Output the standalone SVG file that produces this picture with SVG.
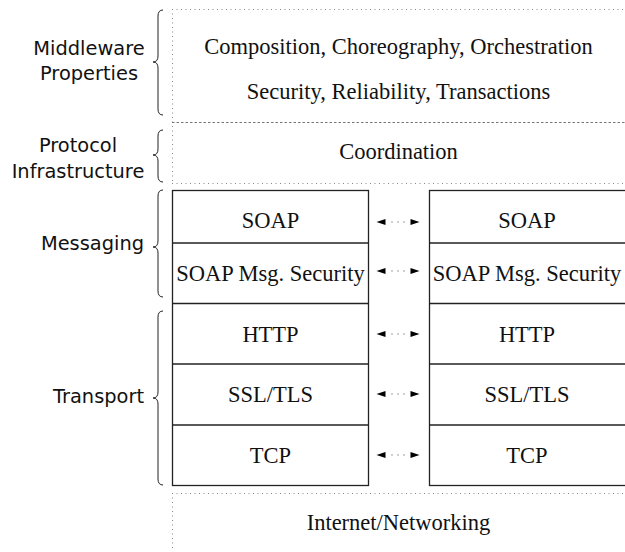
<svg xmlns="http://www.w3.org/2000/svg" width="625" height="552" viewBox="0 0 625 552">
<style>
.serif{font-family:"Liberation Serif","Times New Roman",serif;font-size:22.5px;fill:#111;text-anchor:middle}
.sans{font-family:"DejaVu Sans",sans-serif;font-size:19.4px;fill:#111;text-anchor:middle}
.dot{stroke:#888;stroke-width:1;stroke-dasharray:1 3.5;fill:none}
.dash{stroke:#777;stroke-width:1;stroke-dasharray:2.5 2;fill:none}
.box{stroke:#222;stroke-width:1.3;fill:#fff}
.brace{stroke:#222;stroke-width:1;fill:none}
.conn{stroke:#444;stroke-width:1.2;stroke-dasharray:1 5;fill:none;marker-start:url(#ah);marker-end:url(#ah)}
</style>
<defs>
<marker id="ah" markerUnits="userSpaceOnUse" markerWidth="10" markerHeight="8" refX="-6" refY="3" orient="auto-start-reverse" overflow="visible">
<path d="M0,0 L9,3 L0,6 z" fill="#000"/>
</marker>
</defs>
<rect width="625" height="552" fill="#fff"/>

<g id="frame">
<line class="dot" x1="172" y1="9.5" x2="625" y2="9.5"/>
<line class="dot" x1="172.5" y1="9" x2="172.5" y2="184"/>
<line class="dash" x1="172" y1="122.5" x2="625" y2="122.5"/>
<line class="dot" x1="172" y1="183.5" x2="625" y2="183.5"/>
<line class="dot" x1="172" y1="493.5" x2="625" y2="493.5"/>
<line class="dot" x1="172.5" y1="493" x2="172.5" y2="550"/>
</g>

<g id="middleware-properties">
<path class="brace" d="M163,10 Q158,10 158,16 L158,56 Q158,62 153,62 Q158,62 158,68 L158,109 Q158,115 163,115"/>
<text class="sans" x="89" y="55">Middleware</text>
<text class="sans" x="89" y="80">Properties</text>
<text class="serif" x="398.5" y="54">Composition, Choreography, Orchestration</text>
<text class="serif" x="398.5" y="99">Security, Reliability, Transactions</text>
</g>

<g id="protocol-infrastructure">
<path class="brace" d="M163,130 Q158,130 158,136 L158,149 Q158,155 153,155 Q158,155 158,161 L158,176 Q158,182 163,182"/>
<text class="sans" x="78" y="152">Protocol</text>
<text class="sans" x="78" y="178">Infrastructure</text>
<text class="serif" x="398.5" y="159">Coordination</text>
</g>

<g id="messaging">
<path class="brace" d="M163,190 Q158,190 158,196 L158,241 Q158,247 153,247 Q158,247 158,253 L158,291 Q158,297 163,297"/>
<text class="sans" x="144" y="250" style="text-anchor:end">Messaging</text>
</g>

<g id="transport">
<path class="brace" d="M163,311 Q158,311 158,317 L158,392 Q158,398 153,398 Q158,398 158,404 L158,479 Q158,485 163,485"/>
<text class="sans" x="144" y="403" style="text-anchor:end">Transport</text>
</g>

<g id="left-stack">
<rect class="box" x="172.5" y="190.5" width="196" height="295"/>
<line class="box" x1="172.5" y1="243" x2="368.5" y2="243"/>
<line class="box" x1="172.5" y1="303.5" x2="368.5" y2="303.5"/>
<line class="box" x1="172.5" y1="364" x2="368.5" y2="364"/>
<line class="box" x1="172.5" y1="425" x2="368.5" y2="425"/>
<text class="serif" x="270.5" y="228">SOAP</text>
<text class="serif" x="270.5" y="281">SOAP Msg. Security</text>
<text class="serif" x="270.5" y="342">HTTP</text>
<text class="serif" x="270.5" y="402">SSL/TLS</text>
<text class="serif" x="270.5" y="463">TCP</text>
</g>

<g id="right-stack">
<rect class="box" x="429.5" y="190.5" width="200" height="295"/>
<line class="box" x1="429.5" y1="243" x2="625" y2="243"/>
<line class="box" x1="429.5" y1="303.5" x2="625" y2="303.5"/>
<line class="box" x1="429.5" y1="364" x2="625" y2="364"/>
<line class="box" x1="429.5" y1="425" x2="625" y2="425"/>
<text class="serif" x="527" y="228">SOAP</text>
<text class="serif" x="527" y="281">SOAP Msg. Security</text>
<text class="serif" x="527" y="342">HTTP</text>
<text class="serif" x="527" y="402">SSL/TLS</text>
<text class="serif" x="527" y="463">TCP</text>
</g>

<g id="internet">
<text class="serif" x="398.5" y="530">Internet/Networking</text>
</g>

<g id="connectors">
<line class="conn" x1="391.5" y1="222" x2="404.5" y2="222"/>
<line class="conn" x1="391.5" y1="271" x2="404.5" y2="271"/>
<line class="conn" x1="391.5" y1="334" x2="404.5" y2="334"/>
<line class="conn" x1="391.5" y1="394" x2="404.5" y2="394"/>
<line class="conn" x1="391.5" y1="455" x2="404.5" y2="455"/>
</g>
</svg>
